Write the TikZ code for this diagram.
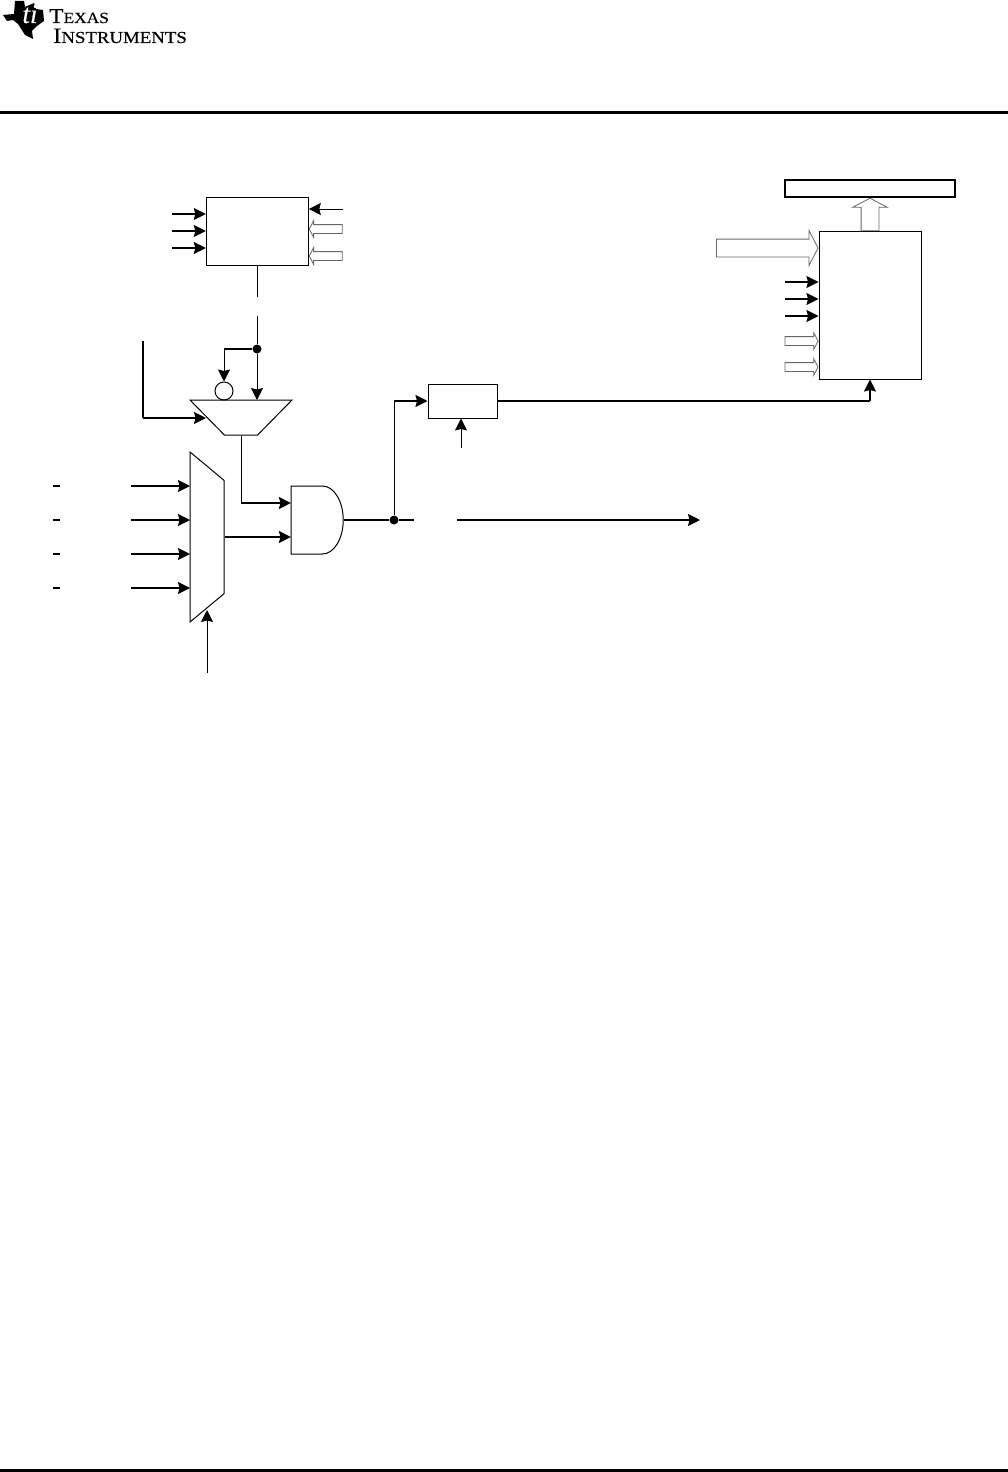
\documentclass[tikz,border=0pt]{standalone}
\usepackage{fontspec}
\newfontfamily\tifont[FakeStretch=1.12,FakeBold=.3]{Liberation Serif}
\usetikzlibrary{arrows.meta, shapes.geometric, shapes.arrows, shapes.gates.logic.US}
\tikzset{
  >={Stealth[length=12pt,width=12pt,inset=1.5pt]},
  wire/.style={line width=1pt},
  busw/.style={line width=1.5pt},
  block/.style={draw,line width=1pt,minimum width=#1,inner sep=0pt},
  openarrow/.style={single arrow,draw=black!60,line width=.8pt,fill=white,
    single arrow head indent=0pt,single arrow tip angle=125},
  smallopen/.style={openarrow,inner sep=4pt,minimum width=16pt,minimum height=33pt,single arrow head extend=4pt},
  bigopen/.style={openarrow,inner sep=8.5pt,minimum width=34pt,single arrow head extend=8.5pt},
  junction/.style={circle,fill,inner sep=0pt,minimum size=9pt},
}
\begin{document}
\begin{tikzpicture}[x=1pt,y=-1pt]
  \useasboundingbox (0,0) rectangle (1008,1472);

  % logo
  \fill (3,15) -- (14,14) -- (15,1) -- (24,1) -- (25,7) -- (34,3) -- (36,9) -- (43,10) -- (44,21)
    -- (37,26) -- (32,31) -- (33,39) -- (25,35) -- (18,24) -- (13,20) -- (7,21) -- cycle;
  \node[anchor=base,inner sep=0pt,text=white] (tilogo) at (30,23)
    {\fontspec{Liberation Serif}[FakeBold=.5]\itshape\fontsize{27}{27}\selectfont ti};
  \node[anchor=base west,inner sep=0pt] (texas) at (49,23)
    {\tifont\fontsize{21}{21}\selectfont T\fontsize{15.5}{15.5}\selectfont EXAS};
  \node[anchor=base west,inner sep=0pt] (instr) at (53,43)
    {\tifont\fontsize{22}{22}\selectfont I\fontsize{16.8}{16.8}\selectfont NSTRUMENTS};
  \draw[line width=3pt] (0,112) coordinate (ruleL) -- (1008,112) coordinate (ruleR);
  \draw[line width=3pt] (0,1470.5) coordinate (footL) -- (1008,1470.5) coordinate (footR);

  % blocks
  \node[block=102pt,minimum height=68pt] (ctrl) at (257.3,231.3) {};
  \node[block=69pt,minimum height=34pt] (latch) at (462.5,401) {};
  \node[block=102pt,minimum height=148pt] (buffer) at (870,305) {};
  \node[draw,line width=1.6pt,minimum width=170pt,minimum height=17pt,inner sep=0pt] (reg) at (870,188.5) {};
  \node[circle,draw,line width=1pt,minimum size=18pt,inner sep=0pt] (inv) at (224,391) {};

  % muxes
  \node[trapezium,draw,line width=1pt,inner sep=1pt,rotate=180,trapezium stretches=true,
    trapezium angle=44,minimum width=102pt,minimum height=35pt] (polmux) at (241,417.5) {};
  \node[trapezium,draw,line width=1pt,inner sep=1pt,rotate=-90,trapezium stretches=true,
    trapezium angle=76,minimum width=170pt,minimum height=34pt] (srcmux) at (207,537) {};
  \node[and gate US,draw,logic gate inputs=nn,line width=1pt,inner sep=0pt,
    xscale=.612,transform shape,minimum height=68pt] (gate) at (315.5,520) {};

  % free ends
  \coordinate (split) at (257,316);
  \coordinate (clkin) at (143,341);
  \coordinate (stop) at (414,520);
  \coordinate (go) at (457,520);
  \coordinate (out) at (700,520);
  \coordinate (sel) at (207,673);
  \coordinate (en) at (461,448);
  \node[junction] (j1) at (257,349) {};
  \node[junction] (j2) at (394,520) {};

  % ctrl inputs
  \foreach \y in {214,231,248}
    \draw[busw,->] (172,\y) -- (ctrl.west |- 0,\y);
  \draw[wire,->] (343,209) -- (ctrl.east |- 0,209);
  \node[smallopen,shape border rotate=180,anchor=tip] (cfga) at (ctrl.east |- 0,229) {};
  \node[smallopen,shape border rotate=180,anchor=tip] (cfgb) at (ctrl.east |- 0,256) {};

  % ctrl output
  \draw[wire] (ctrl.south) -- (257.3,297);
  \draw[wire,->] (split) -- (j1) -- (257,400);
  \draw[busw] (j1) -- (224,349);
  \draw[wire,->] (224,349) -- (inv.north);
  \draw[busw] (clkin) -- (143,418);
  \draw[busw,->] (143,418) -- (206,418);

  % mux and gate
  \draw[wire] (polmux.north) -- (241,503);
  \draw[busw,->] (241,503) -- (gate.west |- 0,503);
  \foreach \y in {486,520,554,588} {
    \draw[busw] (53,\y) -- (60,\y);
    \draw[busw,->] (131,\y) -- (190,\y);
  }
  \draw[busw,->] (srcmux.north) -- (gate.west |- srcmux.north);
  \draw[wire,->] (sel) -- (207,610);
  \draw[busw] (gate.output) -- (j2) -- (stop);
  \draw[busw,->] (go) -- (out);
  \draw[wire] (j2) -- (394,401);
  \draw[busw,->] (394,401) -- (latch.west);
  \draw[wire,->] (en) -- (latch.south -| en);
  \draw[busw] (latch.east) -- (870,401);
  \draw[busw,->] (870,401) -- (buffer.south);

  % buffer inputs
  \node[bigopen,minimum height=101.5pt,anchor=tip] (bus) at (buffer.west |- 0,248) {};
  \foreach \y in {282,299,316}
    \draw[busw,->] (785,\y) -- (buffer.west |- 0,\y);
  \node[smallopen,anchor=tip] (cfgc) at (buffer.west |- 0,341) {};
  \node[smallopen,anchor=tip] (cfgd) at (buffer.west |- 0,367) {};
  \node[bigopen,shape border rotate=90,minimum height=32.5pt,anchor=tip] (load) at (reg.south) {};
\end{tikzpicture}
\end{document}
